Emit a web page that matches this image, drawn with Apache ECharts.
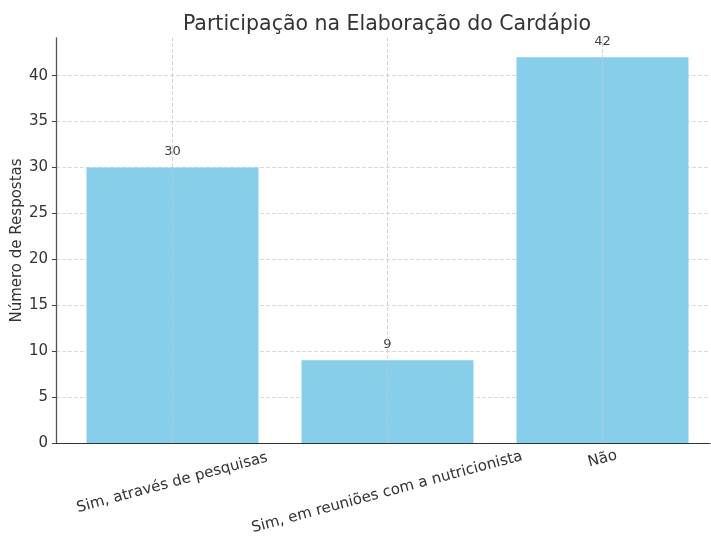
<!DOCTYPE html>
<html>
<head>
<meta charset="utf-8">
<script src="https://cdn.jsdelivr.net/npm/echarts@6/dist/echarts.min.js"></script>
<style>
  html, body { margin: 0; padding: 0; background: #fff; }
  #main { width: 711px; height: 536px; }
</style>
</head>
<body>
<div id="main"></div>
<script>
const categories = [
  "Sim, através de pesquisas",
  "Sim, em reuniões com a nutricionista",
  "Não"
];
const respostas = [30, 9, 42];
const yTicks = [0, 5, 10, 15, 20, 25, 30, 35, 40];
const yMax = 44.1;

const font = "DejaVu Sans";
const chartDom = document.getElementById("main");
const myChart = echarts.init(chartDom);

// per-label offsets so the rotated labels hang from the same top line
const labelPad = [
  [46, 13, 0, 0],
  [64, 18, 0, 0],
  [0, 0, 0, 0]
];

const option = {
  animation: false,
  textStyle: { fontFamily: font },
  title: {
    text: "Participação na Elaboração do Cardápio",
    left: 382,
    top: 9,
    textAlign: "center",
    textStyle: { fontFamily: font, fontSize: 20.5, fontWeight: "normal", color: "#333" }
  },
  grid: [
    { left: 65, right: 1, top: 38, bottom: 93, outerBoundsMode: "none" },
    { left: 56, right: 1, top: 38, bottom: 93, outerBoundsMode: "none" }
  ],
  xAxis: [
    {
      type: "category",
      gridIndex: 0,
      data: categories,
      axisLine: { show: false },
      axisTick: { alignWithLabel: true, length: 4, lineStyle: { color: "#333" } },
      splitLine: { show: false },
      axisLabel: {
        rotate: 15,
        align: "center",
        verticalAlign: "middle",
        margin: 16,
        interval: 0,
        fontFamily: font,
        fontSize: 15,
        color: "#333",
        formatter: (value, i) => "{l" + i + "|" + value + "}",
        rich: {
          l0: { padding: labelPad[0], fontSize: 15, color: "#333", fontFamily: font },
          l1: { padding: labelPad[1], fontSize: 15, color: "#333", fontFamily: font },
          l2: { padding: labelPad[2], fontSize: 15, color: "#333", fontFamily: font }
        }
      }
    },
    {
      type: "value",
      gridIndex: 1,
      min: 0,
      max: 1,
      axisLine: { show: true, lineStyle: { color: "#333", width: 1.2 } },
      axisTick: { show: false },
      axisLabel: { show: false },
      splitLine: { show: false }
    }
  ],
  yAxis: [
    {
      type: "value",
      gridIndex: 0,
      min: 0,
      max: yMax,
      interval: 5,
      show: false,
      splitLine: { show: false }
    },
    {
      type: "value",
      gridIndex: 1,
      min: 0,
      max: yMax,
      interval: 5,
      name: "Número de Respostas",
      nameLocation: "middle",
      nameGap: 31,
      nameMoveOverlap: false,
      nameTextStyle: { fontFamily: font, fontSize: 15, color: "#333" },
      axisLine: { show: true, lineStyle: { color: "#555", width: 1.3 } },
      axisTick: { show: true, length: 4, customValues: yTicks, lineStyle: { color: "#444" } },
      axisLabel: {
        customValues: yTicks,
        margin: 8,
        fontFamily: font,
        fontSize: 15,
        color: "#333"
      },
      splitLine: {
        show: true,
        lineStyle: {
          color: ["#d0d0d0", "#d0d0d0", "#d0d0d0", "#d0d0d0", "#d0d0d0",
                  "#d0d0d0", "#d0d0d0", "#d0d0d0", "#d0d0d0", "rgba(0,0,0,0)"],
          type: [4, 2],
          width: 0.8
        }
      }
    }
  ],
  series: [
    {
      name: "Respostas",
      type: "bar",
      xAxisIndex: 0,
      yAxisIndex: 0,
      data: respostas,
      barWidth: "80%",
      itemStyle: { color: "#87CEEB" },
      label: {
        show: true,
        position: "top",
        distance: 9,
        fontFamily: font,
        fontSize: 13,
        color: "#444"
      },
      markLine: {
        silent: true,
        symbol: "none",
        label: { show: false },
        lineStyle: { color: "#c8c8c8", type: [4, 2], width: 0.8 },
        data: categories.map((c) => ({ xAxis: c }))
      }
    }
  ]
};

myChart.setOption(option);
</script>
</body>
</html>
